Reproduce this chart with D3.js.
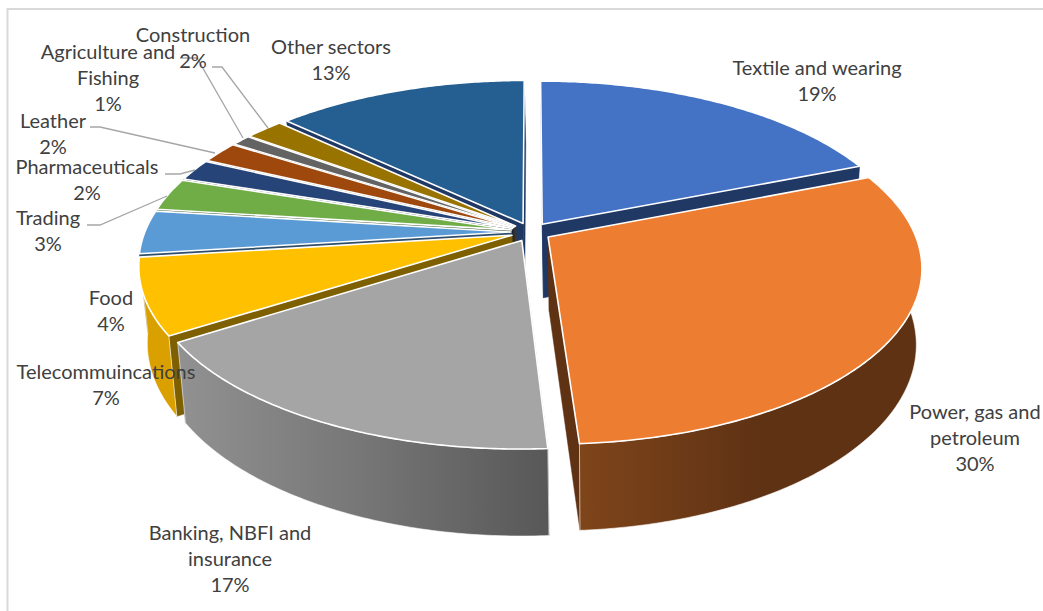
<!DOCTYPE html>
<html><head><meta charset="utf-8">
<script src="https://cdn.jsdelivr.net/npm/d3@7"></script>
<style>html,body{margin:0;padding:0;background:#fff;overflow:hidden}text{font-family:Lato,"Open Sans",sans-serif;font-size:20px;fill:#404040}</style>
</head><body><svg id="c" width="1043" height="611"></svg>
<script>
const categories=["Textile and wearing","Power, gas and petroleum","Banking, NBFI and insurance","Telecommuincations","Food","Trading","Pharmaceuticals","Leather","Agriculture and Fishing","Construction","Other sectors"];
const values=[19,30,17,7,4,3,2,2,1,2,13];
const topColors=["#4472C4","#ED7D31","#A5A5A5","#FFC000","#5B9BD5","#70AD47","#264478","#9E480E","#636363","#997300","#255E91"];
const wallColors=["#1F3864","#5F3214","#5A5A5A","#7F6000","#2E4E6B","#38572A","#132240","#4F2407","#323232","#4D3A00","#1F3864"];
const labelLines=[["Textile and wearing","19%"],["Power, gas and","petroleum","30%"],["Banking, NBFI and","insurance","17%"],["Telecommuincations","7%"],["Food","4%"],["Trading","3%"],["Pharmaceuticals","2%"],["Leather","2%"],["Agriculture and","Fishing","1%"],["Construction","2%"],["Other sectors","13%"]];
const labelAt=[[817,67.5],[975,411.5],[230,532.5],[106,371.5],[111,297.5],[48,217.5],[87,166.5],[53,120.5],[108,51.5],[193,34.5],[331,46.5]];
const leaders=[[[212,67],[222,67],[268,128]],[[180,58],[197,58],[243,138]],[[90,127],[100,127],[215,153]],[[165,174],[180,174],[195,170]],[[87,225],[100,225],[167,196]]];

const cx=531,cy=232,R=366,K=170,P=0.17,explode=0.055,lineH=26;
const svg=d3.select("#c");
svg.append("rect").attr("x",7.5).attr("y",9).attr("width",1200).attr("height",800).attr("fill","#fff").attr("stroke","#D9D9D9").attr("stroke-width",2);

const defs=svg.append("defs");
function grad(id,x1,x2,stops){
  const g=defs.append("linearGradient").attr("id",id).attr("gradientUnits","userSpaceOnUse").attr("x1",x1).attr("x2",x2).attr("y1",0).attr("y2",0);
  stops.forEach(s=>g.append("stop").attr("offset",s[0]).attr("stop-color",s[1]));
}
grad("g2",180,547,[[0,"#919191"],[0.5,"#767676"],[1,"#585858"]]);
grad("g1",578,760,[[0,"#7F451A"],[1,"#5F3214"]]);

const pieData=d3.pie().value(d=>d).sort(null)(values);
// plane -> screen with perspective
function projTop(u,v){const s=1/(1-P*v);return [cx+u*R*s,cy+v*K*s];}
function projBottom(u,v){const p=projTop(u,v);return [610+(p[0]-610)*0.982,cy+(p[1]-cy)*1.06+74];}
const line=d3.line();
pieData.forEach((d,i)=>{d.i=i;d.mid=(d.startAngle+d.endAngle)/2;d.ou=explode*Math.sin(d.mid);d.ov=-explode*Math.cos(d.mid);});
const order=pieData.slice().sort((a,b)=>a.ov-b.ov);
order.forEach(d=>{
  const g=svg.append("g");
  const n=Math.max(4,Math.ceil((d.endAngle-d.startAngle)/0.01));
  const as=d3.range(n+1).map(k=>d.startAngle+(d.endAngle-d.startAngle)*k/n);
  const rim=as.map(a=>[d.ou+Math.sin(a),d.ov-Math.cos(a)]);
  const apex=[d.ou,d.ov];
  const T=p=>projTop(p[0],p[1]),B=p=>projBottom(p[0],p[1]);
  const fill=d.i===1?"url(#g1)":d.i===2?"url(#g2)":d.i===3?"#D9A000":wallColors[d.i];
  const outer=()=>g.append("path").attr("d",line(rim.map(T).concat(rim.slice().reverse().map(B)))+"Z").attr("fill",fill).attr("stroke","#fff").attr("stroke-opacity",.6).attr("stroke-width",1);
  if(d.ov<0) outer();
  [rim[0],rim[n]].forEach(e=>{
    g.append("path").attr("d",line([T(apex),T(e),B(e),B(apex)])+"Z").attr("fill",wallColors[d.i]).attr("stroke",wallColors[d.i]).attr("stroke-width",0.5);
  });
  if(d.ov>=0) outer();
  g.append("path").attr("d",line([T(apex)].concat(rim.map(T)))+"Z").attr("fill",topColors[d.i]).attr("stroke","#fff").attr("stroke-width",1.6).attr("stroke-linejoin","round");
});

leaders.forEach(l=>svg.append("path").attr("d",line(l)).attr("fill","none").attr("stroke","#A6A6A6").attr("stroke-width",1.3));

labelLines.forEach((ls,i)=>{
  const t=svg.append("text").attr("text-anchor","middle");
  ls.forEach((s,j)=>t.append("tspan").attr("x",labelAt[i][0]).attr("y",labelAt[i][1]+j*lineH).attr("dy","0.35em").text(s));
});
</script></body></html>
